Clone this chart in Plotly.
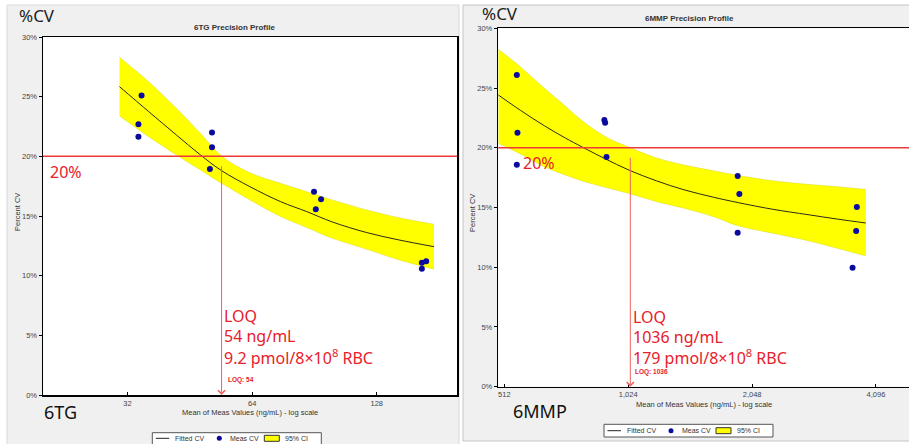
import math
import plotly.graph_objects as go

W, H = 909, 444

# ---------------- 6TG data (ng/mL, %CV) ----------------
tg_fit_x = [30.6, 36, 42, 48, 54, 63.2, 75, 86.7, 100, 121.1, 145, 176]
tg_fit_cv = [25.84, 23.75, 21.79, 20.12, 18.80, 17.46, 16.20, 15.37, 14.50, 13.61, 12.99, 12.43]
tg_ci_hi = [28.31, 26.26, 24.03, 21.93, 20.03, 18.63, 17.74, 17.04, 16.35, 15.51, 14.86, 14.31]
tg_ci_lo = [23.39, 21.65, 20.12, 18.86, 17.74, 16.35, 14.95, 14.03, 13.13, 12.21, 11.32, 10.54]
tg_meas_x = [34.6, 34.0, 34.0, 51.2, 51.2, 50.6, 90.3, 93.9, 91.2, 164.5, 168.5, 164.5]
tg_meas_cv = [25.09, 22.69, 21.65, 21.99, 20.76, 18.94, 17.04, 16.40, 15.56, 11.09, 11.20, 10.59]
tg_loq = 54
tg_ticks = [32, 64, 128]
tg_ticktext = ["32", "64", "128"]

# ---------------- 6MMP data (ng/mL, %CV) ----------------
mmp_fit_x = [495, 560, 640, 720, 789, 900, 1024, 1200, 1400, 1650, 1900, 2300, 2800, 3300, 3870]
mmp_fit_cv = [24.42, 23.14, 21.85, 20.82, 20.09, 19.08, 18.16, 17.23, 16.48, 15.86, 15.40, 14.85, 14.40, 14.03, 13.70]
mmp_ci_hi = [28.24, 26.79, 25.00, 23.50, 22.30, 20.95, 20.08, 19.15, 18.56, 18.08, 17.68, 17.24, 16.94, 16.74, 16.52]
mmp_ci_lo = [20.37, 19.48, 18.41, 17.72, 17.24, 16.69, 16.19, 15.49, 14.93, 14.23, 13.45, 12.84, 12.22, 11.58, 10.94]
mmp_meas_x = [549, 551, 549, 896, 900, 907, 1889, 1907, 1889, 3680, 3666, 3593]
mmp_meas_cv = [26.09, 21.26, 18.58, 22.32, 22.10, 19.23, 17.64, 16.13, 12.89, 15.04, 13.03, 9.96]
mmp_loq = 1036
mmp_ticks = [512, 1024, 2048, 4096]
mmp_ticktext = ["512", "1,024", "2,048", "4,096"]

cv_limit = 20
y_ticks = [0, 5, 10, 15, 20, 25, 30]
y_ticktext = ["0%", "5%", "10%", "15%", "20%", "25%", "30%"]
legend_labels = ["Fitted CV", "Meas CV", "95% CI"]

RED = "#e8202a"
BLUE = "#0a0a9c"
YELLOW = "#ffff00"
SANS = "Liberation Sans, Arial, sans-serif"
BIG = "Noto Sans, Open Sans, sans-serif"


def fx(p):
    return p / W


def fy(p):
    return 1 - p / H


fig = go.Figure()


def add_panel(xa, ya, fit_x, fit_cv, hi, lo, mx, mcv):
    fig.add_trace(go.Scatter(
        x=fit_x, y=lo, mode="lines",
        line=dict(color="rgba(190,190,0,0.5)", width=0.6, shape="spline", smoothing=1),
        showlegend=False, xaxis=xa, yaxis=ya, hoverinfo="skip"))
    fig.add_trace(go.Scatter(
        x=fit_x, y=hi, mode="lines", fill="tonexty", fillcolor=YELLOW,
        line=dict(color="rgba(190,190,0,0.5)", width=0.6, shape="spline", smoothing=1),
        name="95% CI", showlegend=False, xaxis=xa, yaxis=ya))
    fig.add_trace(go.Scatter(
        x=fit_x, y=fit_cv, mode="lines",
        line=dict(color="#2a2a1a", width=1, shape="spline", smoothing=1),
        name="Fitted CV", showlegend=False, xaxis=xa, yaxis=ya))
    fig.add_trace(go.Scatter(
        x=mx, y=mcv, mode="markers",
        marker=dict(color=BLUE, size=6),
        name="Meas CV", showlegend=False, xaxis=xa, yaxis=ya))


add_panel("x", "y", tg_fit_x, tg_fit_cv, tg_ci_hi, tg_ci_lo, tg_meas_x, tg_meas_cv)
add_panel("x2", "y2", mmp_fit_x, mmp_fit_cv, mmp_ci_hi, mmp_ci_lo, mmp_meas_x, mmp_meas_cv)

tickfont = dict(family=SANS, size=7.5, color="#444")
common_x = dict(type="log", showgrid=False, zeroline=False, showline=True,
                linecolor="black", linewidth=1.5, ticks="inside", ticklen=3,
                tickcolor="black", tickfont=tickfont, automargin=False)
common_y = dict(range=[0, 30], showgrid=False, zeroline=False, showline=True,
                linecolor="black", linewidth=1.5, ticks="outside", ticklen=3,
                tickcolor="black", tickfont=tickfont, tickvals=y_ticks,
                ticktext=y_ticktext, automargin=False)

fig.update_layout(
    width=W, height=H, autosize=False,
    margin=dict(l=0, r=0, t=0, b=0, autoexpand=False),
    paper_bgcolor="white", plot_bgcolor="white",
    showlegend=False,
    xaxis=dict(common_x, domain=[fx(43), fx(457)],
               range=[math.log10(20), math.log10(200)],
               tickvals=tg_ticks, ticktext=tg_ticktext, mirror=True, anchor="y"),
    yaxis=dict(common_y, domain=[fy(395), fy(37)], mirror=True, anchor="x"),
    xaxis2=dict(common_x, domain=[fx(498.3), 1.0],
                range=[math.log10(495), math.log10(4927)],
                tickvals=mmp_ticks, ticktext=mmp_ticktext, mirror=True, anchor="y2"),
    yaxis2=dict(common_y, domain=[fy(386.7), fy(28.3)], mirror=False, anchor="x2"),
)

# panel backgrounds and plot-area backgrounds
shapes = [
    dict(type="rect", xref="paper", yref="paper", x0=fx(7), x1=fx(459), y0=fy(446), y1=fy(5),
         fillcolor="#f0f0f0", line=dict(color="#d9d9d9", width=1), layer="below"),
    dict(type="rect", xref="paper", yref="paper", x0=fx(463), x1=fx(911), y0=fy(441), y1=fy(5),
         fillcolor="#f0f0f0", line=dict(color="#c4c4c4", width=1), layer="below"),
    dict(type="rect", xref="paper", yref="paper", x0=fx(43), x1=fx(457), y0=fy(395), y1=fy(37),
         fillcolor="white", line=dict(width=0), layer="below"),
    dict(type="rect", xref="paper", yref="paper", x0=fx(498.3), x1=1, y0=fy(386.7), y1=fy(28.3),
         fillcolor="white", line=dict(width=0), layer="below"),
    # 20% limit lines
    dict(type="line", xref="x domain", yref="y", x0=0, x1=1, y0=cv_limit, y1=cv_limit,
         line=dict(color="#f03838", width=1.5)),
    dict(type="line", xref="x2 domain", yref="y2", x0=0, x1=1, y0=cv_limit, y1=cv_limit,
         line=dict(color="#f03838", width=1.5)),
]

ann = []


def txt(x, y, s, size, color="#222", family=BIG, xanchor="left", yanchor="middle", **kw):
    ann.append(dict(xref="paper", yref="paper", x=fx(x), y=fy(y), text=s,
                    showarrow=False, xanchor=xanchor, yanchor=yanchor,
                    font=dict(family=family, size=size, color=color), **kw))


# hand-drawn legend boxes (one per panel)
def legend_box(x0, ytop, ybot, yc):
    shapes.append(dict(type="rect", xref="paper", yref="paper",
                       x0=fx(x0), x1=fx(x0 + 169), y0=fy(ybot), y1=fy(ytop),
                       fillcolor="white", line=dict(color="#555", width=1)))
    shapes.append(dict(type="line", xref="paper", yref="paper",
                       x0=fx(x0 + 3.5), x1=fx(x0 + 17), y0=fy(yc), y1=fy(yc),
                       line=dict(color="#222", width=1)))
    shapes.append(dict(type="circle", xref="paper", yref="paper",
                       x0=fx(x0 + 64.5), x1=fx(x0 + 69.5), y0=fy(yc + 2.5), y1=fy(yc - 2.5),
                       fillcolor=BLUE, line=dict(color=BLUE, width=0)))
    shapes.append(dict(type="rect", xref="paper", yref="paper",
                       x0=fx(x0 + 112), x1=fx(x0 + 127), y0=fy(yc + 3), y1=fy(yc - 3),
                       fillcolor=YELLOW, line=dict(color="#333", width=1)))
    for dx, lab in zip((20.5, 75.5, 130.5), legend_labels):
        txt(x0 + dx, yc, lab, 7, color="#333", family=SANS)


legend_box(152.3, 432.7, 447, 438.3)
legend_box(604, 424.3, 437, 430.7)

fig.update_layout(shapes=shapes)

# LOQ arrows
for xr, yr, loq in (("x", "y", tg_loq), ("x2", "y2", mmp_loq)):
    ann.append(dict(xref=xr, yref=yr, axref=xr, ayref=yr,
                    x=math.log10(loq), y=0, ax=math.log10(loq), ay=cv_limit,
                    showarrow=True, arrowhead=4, arrowsize=1.4, arrowwidth=1,
                    arrowcolor="#f06060", text=" "))

# big labels
txt(17, 16, "%CV", 17)
txt(480, 13, "%CV", 17)
txt(42, 411.7, "6TG", 18, color="#111")
txt(511, 410.7, "6MMP", 18, color="#111")
# titles
txt(235, 27, "<b>6TG Precision Profile</b>", 8, color="#333", family=SANS, xanchor="center")
txt(689, 18, "<b>6MMP Precision Profile</b>", 8, color="#333", family=SANS, xanchor="center")
# axis titles
txt(17, 212, "Percent CV", 7.5, color="#333", family=SANS, xanchor="center", textangle=-90)
txt(472, 213, "Percent CV", 7.5, color="#333", family=SANS, xanchor="center", textangle=-90)
txt(250, 412, "Mean of Meas Values (ng/mL) - log scale", 7.5, color="#333", family=SANS, xanchor="center")
txt(704, 404, "Mean of Meas Values (ng/mL) - log scale", 7.5, color="#333", family=SANS, xanchor="center")
# 20% labels
txt(48, 172, "20%", 16, color=RED)
txt(521, 162.7, "20%", 16, color=RED)
# LOQ blocks (one text per line)
for i, line in enumerate(["LOQ", "54 ng/mL", "9.2 pmol/8×10<sup>8</sup> RBC"]):
    txt(222, 316 + 20.3 * i, line, 16, color=RED)
for i, line in enumerate(["LOQ", "1036 ng/mL", "179 pmol/8×10<sup>8</sup> RBC"]):
    txt(631, 316.7 + 20.2 * i, line, 16, color=RED)
txt(226, 380, "<b>LOQ: 54</b>", 6.5, color=RED, family=SANS)
txt(633, 371.7, "<b>LOQ: 1036</b>", 6.5, color=RED, family=SANS)

fig.update_layout(annotations=ann)

fig.write_html("out.html",
               config={"displayModeBar": False, "staticPlot": True},
               post_script="document.body.style.margin='0';document.body.style.overflow='hidden';")
